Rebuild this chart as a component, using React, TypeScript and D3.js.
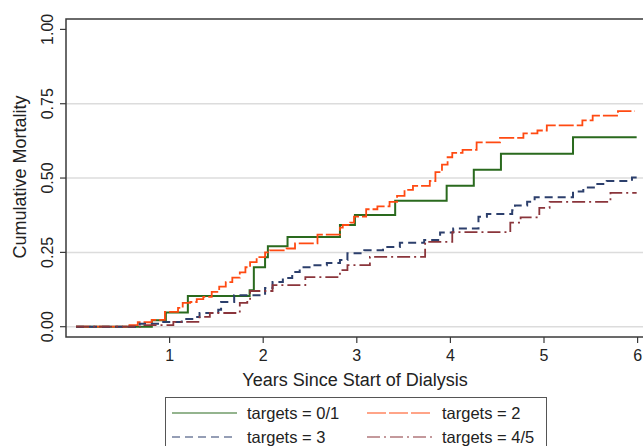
import React from 'react'
import * as d3 from 'd3'

const WIDTH = 643
const HEIGHT = 446
const FONT = 'Liberation Sans, Arial, sans-serif'

// step curves: times (years) and cumulative mortality
const greenTimes = [0, 0.81, 0.96, 1.195, 1.855, 1.9, 2.02, 2.05, 2.26, 2.82, 2.98, 3.41, 3.96, 4.25, 4.54, 5.31, 5.99]
const greenValues = [0, 0.022, 0.048, 0.103, 0.123, 0.2, 0.234, 0.271, 0.302, 0.342, 0.376, 0.424, 0.474, 0.528, 0.582, 0.637, 0.637]

const orangeTimes = [0, 0.56, 0.66, 0.81, 0.95, 1.09, 1.14, 1.22, 1.29, 1.36, 1.45, 1.53, 1.6, 1.67, 1.75, 1.81, 1.86, 1.93, 2.02, 2.07, 2.25, 2.34, 2.58, 2.82, 2.85, 2.93, 2.97, 3.1, 3.22, 3.35, 3.43, 3.51, 3.6, 3.78, 3.84, 3.91, 3.97, 4.02, 4.13, 4.28, 4.53, 4.78, 4.93, 5.03, 5.41, 5.52, 5.79, 5.97]
const orangeValues = [0, 0.005, 0.015, 0.023, 0.05, 0.063, 0.08, 0.083, 0.093, 0.1, 0.117, 0.135, 0.15, 0.165, 0.183, 0.2, 0.217, 0.234, 0.25, 0.257, 0.263, 0.28, 0.31, 0.333, 0.342, 0.35, 0.37, 0.395, 0.405, 0.42, 0.44, 0.46, 0.474, 0.49, 0.52, 0.545, 0.57, 0.585, 0.595, 0.62, 0.635, 0.65, 0.66, 0.677, 0.694, 0.71, 0.725, 0.725]

const navyTimes = [0, 0.68, 0.9, 1.13, 1.26, 1.32, 1.52, 1.55, 1.69, 2.02, 2.1, 2.21, 2.31, 2.39, 2.53, 2.68, 2.82, 2.9, 3.08, 3.28, 3.46, 3.72, 3.89, 4.03, 4.3, 4.39, 4.66, 4.69, 4.82, 4.9, 5.31, 5.42, 5.57, 5.67, 5.94, 5.99]
const navyValues = [0, 0.01, 0.016, 0.026, 0.033, 0.046, 0.057, 0.083, 0.106, 0.13, 0.15, 0.164, 0.184, 0.2, 0.207, 0.214, 0.224, 0.247, 0.257, 0.268, 0.282, 0.292, 0.317, 0.33, 0.37, 0.379, 0.392, 0.408, 0.42, 0.435, 0.455, 0.468, 0.48, 0.49, 0.502, 0.502]

const maroonTimes = [0, 0.71, 1.04, 1.32, 1.43, 1.75, 1.83, 1.86, 2.1, 2.45, 2.82, 2.9, 3.14, 3.73, 4.02, 4.64, 4.75, 4.95, 5.06, 5.71, 5.99]
const maroonValues = [0, 0.005, 0.016, 0.033, 0.046, 0.08, 0.087, 0.12, 0.14, 0.167, 0.19, 0.207, 0.235, 0.285, 0.318, 0.35, 0.368, 0.4, 0.42, 0.45, 0.45]

const yTicks = [0, 0.25, 0.5, 0.75, 1]
const gridValues = [0, 0.25, 0.5, 0.75]
const xTicks = [1, 2, 3, 4, 5, 6]

const series = [
  { name: 'targets = 0/1', times: greenTimes, values: greenValues, colour: '#2a6a1e', width: 2, dash: null },
  { name: 'targets = 2', times: orangeTimes, values: orangeValues, colour: '#ff4a12', width: 1.8, dash: '15 3' },
  { name: 'targets = 3', times: navyTimes, values: navyValues, colour: '#2c3f6c', width: 2, dash: '8 5' },
  { name: 'targets = 4/5', times: maroonTimes, values: maroonValues, colour: '#8a353b', width: 1.8, dash: '13 4 2 4' },
]

const xScale = d3.scaleLinear().domain([0, 6]).range([76, 637.6])
const yScale = d3.scaleLinear().domain([0, 1]).range([326.7, 29.4])

const PLOT_LEFT = 66
const PLOT_TOP = 19
const PLOT_BOTTOM = 337

const line = d3.line<[number, number]>()
  .x(d => xScale(d[0]))
  .y(d => yScale(d[1]))
  .curve(d3.curveStepAfter)

export default function App() {
  const legendRows = [
    { x: 172, y: 413, s: series[0] },
    { x: 367, y: 413, s: series[1] },
    { x: 172, y: 437, s: series[2] },
    { x: 367, y: 437, s: series[3] },
  ]

  return (
    <div>
      <style>{'body { margin: 0; }'}</style>
      <svg width={WIDTH} height={HEIGHT} style={{ display: 'block', background: '#fff' }} fontFamily={FONT}>
        {gridValues.map(v => (
          <line key={v} x1={PLOT_LEFT} x2={WIDTH} y1={yScale(v)} y2={yScale(v)} stroke="#dcdcdc" strokeWidth={1.5} />
        ))}

        {series.map(s => (
          <path
            key={s.name}
            d={line(s.times.map((t, i) => [t, s.values[i]] as [number, number])) || ''}
            fill="none"
            stroke={s.colour}
            strokeWidth={s.width}
            strokeDasharray={s.dash || undefined}
          />
        ))}

        <rect x={PLOT_LEFT} y={PLOT_TOP} width={700} height={PLOT_BOTTOM - PLOT_TOP} fill="none" stroke="#3a3a3a" strokeWidth={1.5} />

        {yTicks.map(v => (
          <g key={v}>
            <line x1={PLOT_LEFT - 6} x2={PLOT_LEFT} y1={yScale(v)} y2={yScale(v)} stroke="#3a3a3a" strokeWidth={1.2} />
            <text
              transform={`translate(53, ${yScale(v)}) rotate(-90)`}
              textAnchor="middle"
              fontSize={16}
              fill="#222"
            >
              {v.toFixed(2)}
            </text>
          </g>
        ))}

        {xTicks.map(t => (
          <g key={t}>
            <line x1={xScale(t)} x2={xScale(t)} y1={PLOT_BOTTOM} y2={PLOT_BOTTOM + 6} stroke="#3a3a3a" strokeWidth={1.2} />
            <text x={xScale(t)} y={361} textAnchor="middle" fontSize={16} fill="#222">{t}</text>
          </g>
        ))}

        <text transform="translate(26, 177) rotate(-90)" textAnchor="middle" fontSize={18} fill="#222">
          Cumulative Mortality
        </text>
        <text x={355} y={386} textAnchor="middle" fontSize={18} fill="#222">
          Years Since Start of Dialysis
        </text>

        <rect x={165.5} y={397.5} width={381} height={70} fill="#fff" stroke="#555" strokeWidth={1} />
        {legendRows.map(r => (
          <g key={r.s.name}>
            <line
              x1={r.x}
              x2={r.x + 65}
              y1={r.y}
              y2={r.y}
              stroke={r.s.colour}
              strokeWidth={1.2}
              strokeDasharray={r.s.dash ? (r.s.name === 'targets = 2' ? '19 3' : r.s.dash) : undefined}
            />
            <text x={r.x + 75} y={r.y + 6} fontSize={16.5} fill="#222">{r.s.name}</text>
          </g>
        ))}
      </svg>
    </div>
  )
}
